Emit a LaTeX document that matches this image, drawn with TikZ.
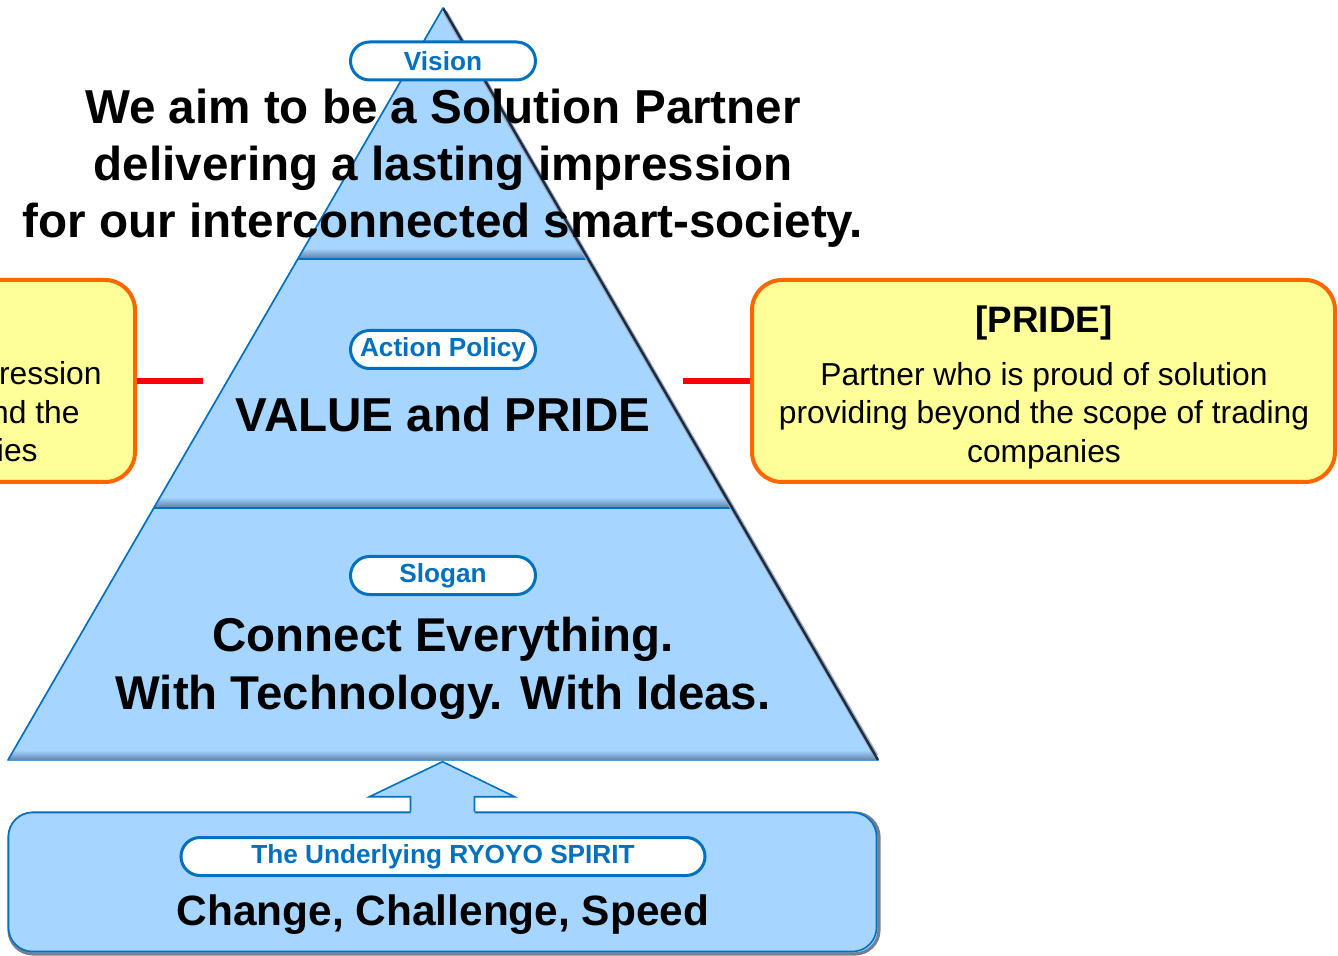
\documentclass[tikz,border=0pt]{standalone}
\usepackage{fontspec}
\setmainfont{Liberation Sans}
\usetikzlibrary{positioning}

\definecolor{pyrblue}{RGB}{166,214,255}
\definecolor{pyredge}{RGB}{0,112,192}
\definecolor{pyrdark}{RGB}{96,132,172}
\definecolor{pyrshadow}{RGB}{24,44,74}
\definecolor{noteorange}{RGB}{255,102,0}
\definecolor{noteyellow}{RGB}{255,255,153}

\begin{document}
\begin{tikzpicture}[
    x=0.5pt, y=-0.5pt,
    layer/.style={fill=pyrblue, draw=pyredge, line width=0.5pt},
    bevel/.style={top color=pyrblue, bottom color=pyrdark},
    pill/.style={draw=pyredge, line width=1.5pt, fill=white, rounded corners=9.5pt,
                 minimum width=92.5pt, minimum height=19pt, inner sep=0pt,
                 text=pyredge, font=\bfseries\fontsize{13.1}{15}\selectfont},
    bigtext/.style={align=center, inner sep=0pt, font=\bfseries\fontsize{23.8}{28.5}\selectfont},
    notebox/.style={draw=noteorange, line width=2pt, fill=noteyellow, rounded corners=15pt,
                 minimum width=291.5pt, minimum height=101pt},
    notetext/.style={align=center, inner sep=0pt, font=\fontsize{15.9}{19.3}\selectfont},
    link/.style={draw=red, line width=3pt}
]
\useasboundingbox (0,0) rectangle (1338,956);

% pyramid, three layers
\path[layer] (443,8) -- (587.6,258) -- (298.4,258) -- cycle;
\path[layer] (298.4,258) -- (587.6,258) -- (731.6,507) -- (154.4,507) -- cycle;
\path[layer] (154.4,507) -- (731.6,507) -- (878,760) -- (8,760) -- cycle;
\shade[bevel] (304.2,248) -- (581.8,248) -- (587.6,258) -- (298.4,258) -- cycle;
\shade[bevel] (160.1,497) -- (725.9,497) -- (731.6,507) -- (154.4,507) -- cycle;
\shade[bevel] (13.8,750) -- (872.2,750) -- (878,760) -- (8,760) -- cycle;
\draw[pyredge, line width=0.6pt] (298.4,259) -- (587.6,259) (154.4,508) -- (731.6,508);
\draw[pyrshadow!40, line width=2.4pt] (445,12) -- (876,756);
\draw[pyrshadow, line width=1.2pt] (443,8) -- (878,760);
\draw[pyredge, line width=0.8pt] (443,8) -- (8,760);

% base block with the arrow
\node[draw=pyrshadow!60, line width=1.6pt, fill=pyrblue, rounded corners=12pt,
      minimum width=435pt, minimum height=70.5pt] (spiritshade) at (444,883.5) {};
\node[draw=pyredge, line width=0.8pt, fill=pyrblue, rounded corners=12pt,
      minimum width=434pt, minimum height=69.5pt] (spirit) at (442.5,882) {};
\coordinate[left=16pt of spirit.north] (shaft);
\fill[pyrblue] ([yshift=-1.5pt]shaft) -- ++(0,-18) -- ++(-41,0) -- ++(73,-35) -- ++(72,35)
    -- ++(-40,0) -- ++(0,18) -- cycle;
\draw[pyredge, line width=0.8pt] (shaft) -- ++(0,-15) -- ++(-41,0) -- ++(73,-35) -- ++(72,35)
    -- ++(-40,0) -- ++(0,15);

% labels
\node[pill] (vision) at (443,61) {Vision};
\node[bigtext] (visiontext) at (443,168.5) {We aim to be a Solution Partner\\delivering a lasting impression\\for our interconnected smart-society.};
\node[pill] (policy) at (443,349.5) {Action Policy};
\node[bigtext, anchor=base] (policytext) at (443,432) {VALUE and PRIDE};
\node[pill] (slogan) at (443,575.5) {Slogan};
\node[bigtext, font=\bfseries\fontsize{23.7}{29}\selectfont] (slogantext) at (443,668.5) {Connect Everything.\\With Technology. With Ideas.};
\node[pill, minimum width=262pt] (spiritpill) at (443,856.5) {The Underlying RYOYO SPIRIT};
\node[bigtext, anchor=base, font=\bfseries\fontsize{21.2}{25}\selectfont] (spirittext) at (443,925) {Change, Challenge, Speed};

% side notes
\node[notebox] (valuebox) at (-156.5,381) {};
\node[notetext, anchor=base east] (value1) at (102,385) {ression};
\node[notetext, anchor=base east] (value2) at (80,424) {nd the};
\node[notetext, anchor=base east] (value3) at (38,462) {ies};

\node[notebox] (pridebox) at (1043.5,381) {};
\node[notetext, anchor=base, font=\bfseries\fontsize{18.4}{22}\selectfont] (pridetitle) at (1044,333) {[PRIDE]};
\node[notetext] (pridetext) at (1044,415.5) {Partner who is proud of solution\\providing beyond the scope of trading\\companies};

\coordinate (valuetip) at (203,381);
\coordinate (pridetip) at (683,381);
\draw[link] (valuebox.east) -- (valuetip);
\draw[link] (pridetip) -- (pridebox.west);

\end{tikzpicture}
\end{document}
